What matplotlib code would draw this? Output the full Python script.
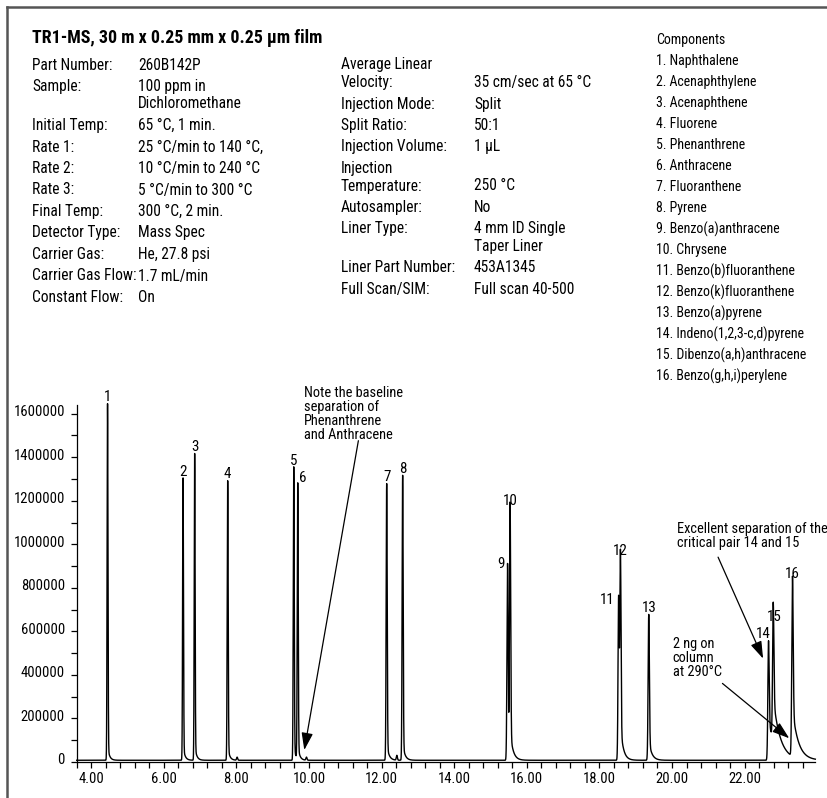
import numpy as np
import matplotlib
matplotlib.use("Agg")
import matplotlib.pyplot as plt
from matplotlib import font_manager
from matplotlib.lines import Line2D
from matplotlib.ticker import FixedLocator, FuncFormatter
from matplotlib.transforms import ScaledTranslation

# ---------------- chromatogram data ----------------
peak_ids = [str(i) for i in range(1, 17)]
retention_min = [4.45, 6.53, 6.85, 7.76, 9.58, 9.69, 12.14, 12.58,
                 15.47, 15.54, 18.53, 18.58, 19.36, 22.66, 22.79, 23.32]
peak_height = [1638000, 1297000, 1409000, 1284000, 1348000, 1267000, 1271000, 1309000,
               904000, 1164000, 751000, 932000, 670000, 549000, 629000, 827000]
peak_sigma = [0.012, 0.012, 0.012, 0.013, 0.013, 0.013, 0.014, 0.014,
              0.016, 0.016, 0.016, 0.016, 0.017, 0.018, 0.018, 0.019]
tail_fraction = [0.04, 0.05, 0.05, 0.05, 0.05, 0.05, 0.06, 0.06,
                 0.08, 0.10, 0.10, 0.14, 0.14, 0.32, 0.30, 0.26]
tail_tau = [0.05, 0.05, 0.05, 0.05, 0.05, 0.05, 0.06, 0.06,
            0.06, 0.08, 0.06, 0.08, 0.08, 0.22, 0.18, 0.16]
minor_rt = [8.02, 9.93, 12.42]
minor_height = [14000, 14000, 22000]
baseline_level = 8000

# ---------------- method conditions ----------------
title = "TR1-MS, 30 m x 0.25 mm x 0.25 \u00b5m film"
left_fields = ["Part Number:", "Sample:", "Initial Temp:", "Rate 1:", "Rate 2:", "Rate 3:",
               "Final Temp:", "Detector Type:", "Carrier Gas:", "Carrier Gas Flow:", "Constant Flow:"]
left_values = ["260B142P", "100 ppm in\nDichloromethane", "65 \u00b0C, 1 min.",
               "25 \u00b0C/min to 140 \u00b0C,", "10 \u00b0C/min to 240 \u00b0C",
               "5 \u00b0C/min to 300 \u00b0C", "300 \u00b0C, 2 min.", "Mass Spec",
               "He, 27.8 psi", "1.7 mL/min", "On"]
right_fields = ["Average Linear\nVelocity:", "Injection Mode:", "Split Ratio:", "Injection Volume:",
                "Injection\nTemperature:", "Autosampler:", "Liner Type:", "Liner Part Number:",
                "Full Scan/SIM:"]
right_values = ["35 cm/sec at 65 \u00b0C", "Split", "50:1", "1 \u00b5L", "250 \u00b0C", "No",
                "4 mm ID Single\nTaper Liner", "453A1345", "Full scan 40-500"]
components = ["Naphthalene", "Acenaphthylene", "Acenaphthene", "Fluorene", "Phenanthrene",
              "Anthracene", "Fluoranthene", "Pyrene", "Benzo(a)anthracene", "Chrysene",
              "Benzo(b)fluoranthene", "Benzo(k)fluoranthene", "Benzo(a)pyrene",
              "Indeno(1,2,3-c,d)pyrene", "Dibenzo(a,h)anthracene", "Benzo(g,h,i)perylene"]

# ---------------- font: prefer a condensed sans ----------------
_fonts = font_manager.fontManager.ttflist
_names = {f.name for f in _fonts}
FAMILY, STRETCH, SCALE = 'Roboto', 'normal', 0.86
for cand in ['Roboto Condensed', 'Liberation Sans Narrow', 'Open Sans Condensed',
             'Arial Narrow', 'Noto Sans Condensed']:
    if cand in _names:
        FAMILY, STRETCH, SCALE = cand, 'normal', 1.0
        break
else:
    for f in _fonts:
        if f.name in ('DejaVu Sans', 'Noto Sans', 'Open Sans') and 'condensed' in str(f.stretch):
            FAMILY, STRETCH, SCALE = f.name, 'condensed', 1.0
            break
plt.rcParams['font.family'] = [FAMILY, 'DejaVu Sans']
plt.rcParams['font.stretch'] = STRETCH


def fs(pt):
    return pt * SCALE


W, H = 827, 798
fig = plt.figure(figsize=(W / 100, H / 100), dpi=100)


def fx(px):
    return px / W


def fy(py):
    return 1 - py / H


# frame
fig.add_artist(Line2D([fx(7), fx(7)], [fy(7), 0], color='#555555', lw=1.8))
fig.add_artist(Line2D([fx(7), 1], [fy(7), fy(7)], color='#555555', lw=1.8))

# header
fig.text(fx(32), fy(38), title, fontsize=fs(12.9), fontweight='bold', va='center', ha='left')

BODY = fs(11.2)
ENTRY_GAP = 21.5
CONT_GAP = 17.5


def write_block(x_field, x_value, fields, values, y0):
    y = y0
    for f, v in zip(fields, values):
        flines = f.split("\n")
        vlines = v.split("\n")
        ys = [y + CONT_GAP * k for k in range(max(len(flines), len(flines) - 1 + len(vlines)))]
        for k, s in enumerate(flines):
            fig.text(fx(x_field), fy(ys[k]), s, fontsize=BODY, va='center', ha='left')
        start = len(flines) - 1
        for k, s in enumerate(vlines):
            fig.text(fx(x_value), fy(ys[start + k]), s, fontsize=BODY, va='center', ha='left')
        y = ys[-1] + ENTRY_GAP


write_block(32, 138, left_fields, left_values, 65)
write_block(341, 474, right_fields, right_values, 65)

fig.text(fx(656), fy(40), "Components", fontsize=fs(10), va='center', ha='left')
for i, name in enumerate(components):
    fig.text(fx(656), fy(61 + 21.0 * i), f"{i + 1}. {name}", fontsize=fs(10),
             va='center', ha='left')

# ---------------- chromatogram ----------------
ax = fig.add_axes([fx(76.7), fy(762), fx(815) - fx(76.7), fy(405) - fy(762)])

t = np.arange(3.6, 23.95, 0.001)
signal = np.full_like(t, baseline_level, dtype=float)
for rt, h, s, a, tau in zip(retention_min, peak_height, peak_sigma, tail_fraction, tail_tau):
    dt = t - rt
    g = np.exp(-0.5 * (dt / s) ** 2)
    tail = np.where(dt > 0, np.exp(-np.clip(dt, 0, None) / tau), 0.0)
    shape = np.where(dt <= 0, g, (1 - a) * g + a * tail)
    signal += h * shape
for rt, h in zip(minor_rt, minor_height):
    signal += h * np.exp(-0.5 * ((t - rt) / 0.015) ** 2)

ax.plot(t, signal, color='black', lw=1.0, clip_on=False)

ax.set_xlim(3.6, 23.94)
ax.set_ylim(0, 1640000)
for side in ('top', 'right'):
    ax.spines[side].set_visible(False)
for side in ('left', 'bottom'):
    ax.spines[side].set_linewidth(0.9)

major_x = np.arange(4, 23, 2)
ax.xaxis.set_major_locator(FixedLocator(major_x))
ax.xaxis.set_minor_locator(FixedLocator(np.arange(3.6, 23.95, 0.4)))
ax.xaxis.set_major_formatter(FuncFormatter(lambda v, p: f"{v:.2f}"))
ax.yaxis.set_major_locator(FixedLocator(np.arange(0, 1600001, 200000)))
ax.yaxis.set_minor_locator(FixedLocator(np.arange(0, 1600001, 100000)))
ax.yaxis.set_major_formatter(FuncFormatter(lambda v, p: f"{int(v)}"))
ax.tick_params(which='both', direction='out', length=4.5, width=0.9, color='black')
ax.tick_params(axis='x', labelsize=fs(10.5), pad=3)
ax.tick_params(axis='y', labelsize=fs(10.5), pad=4)
for lbl in ax.get_yticklabels():
    lbl.set_transform(lbl.get_transform() + ScaledTranslation(0, 3 / 100, fig.dpi_scale_trans))

# peak numbers
label_dx = {6: 5, 9: -7, 11: -11, 14: -5, 15: 1}
label_dy = {9: -7, 11: -9}
for i, (pid, rt, h) in enumerate(zip(peak_ids, retention_min, peak_height)):
    n = i + 1
    ax.annotate(pid, xy=(rt, h), xytext=(label_dx.get(n, 0) * 0.72, (1 + label_dy.get(n, 0)) * 0.72),
                textcoords='offset points', ha='center', va='bottom', fontsize=fs(10.8),
                annotation_clip=False)

# call-outs
arrow_kw = dict(arrowstyle='-|>,head_length=0.75,head_width=0.25', color='black', lw=0.9,
                shrinkA=0, shrinkB=0, mutation_scale=14)
note_font = dict(fontsize=fs(10.4), ha='left', va='top', linespacing=1.0)

ax.text(9.87, 1728000, "Note the baseline\nseparation of\nPhenanthrene\nand Anthracene",
        clip_on=False, **note_font)
ax.annotate('', xy=(9.87, 55000), xytext=(11.36, 1476000), arrowprops=arrow_kw,
            annotation_clip=False)

ax.text(20.13, 1101000, "Excellent separation of the\ncritical pair 14 and 15",
        clip_on=False, **note_font)
ax.annotate('', xy=(22.51, 475000), xytext=(21.27, 941000), arrowprops=arrow_kw,
            annotation_clip=False)

ax.text(20.02, 574000, "2 ng on\ncolumn\nat 290\u00b0C", clip_on=False, **note_font)
ax.annotate('', xy=(23.23, 109000), xytext=(21.39, 361000), arrowprops=arrow_kw,
            annotation_clip=False)

fig.savefig("out.png", dpi=100)
